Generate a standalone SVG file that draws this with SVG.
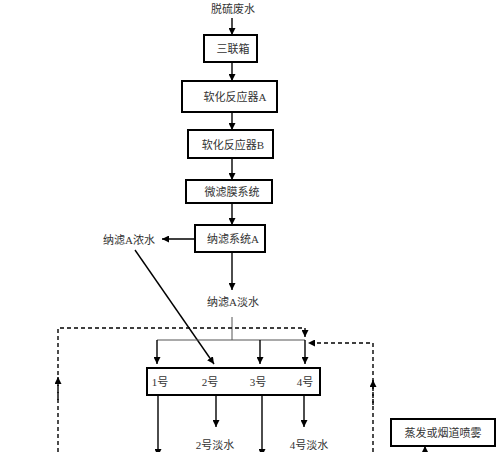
<svg xmlns="http://www.w3.org/2000/svg" width="500" height="452" viewBox="0 0 500 452">
<style>
.box{fill:#fff;stroke:#000;stroke-width:2}
.t{font-family:"Liberation Serif","Noto Sans CJK SC",serif;font-size:11px;fill:#333;text-anchor:middle;dominant-baseline:central}
.ln{stroke:#000;stroke-width:1.4;fill:none}
.thin{stroke:#555;stroke-width:1;fill:none}
.dash{stroke:#000;stroke-width:1.4;fill:none;stroke-dasharray:4,3}
</style>
<defs>
<marker id="ah" viewBox="0 0 10 10" refX="10" refY="5" markerWidth="7" markerHeight="7" markerUnits="userSpaceOnUse" orient="auto">
<path d="M0,0 L10,5 L0,10 z" fill="#000"/>
</marker>
</defs>
<rect width="500" height="452" fill="#fff"/>
<g id="connectors">
<line class="ln" x1="232" y1="18" x2="232" y2="35" marker-end="url(#ah)"/>
<line class="ln" x1="232" y1="62" x2="232" y2="81" marker-end="url(#ah)"/>
<line class="ln" x1="232" y1="112" x2="232" y2="130" marker-end="url(#ah)"/>
<line class="ln" x1="232" y1="158" x2="232" y2="180" marker-end="url(#ah)"/>
<line class="ln" x1="232" y1="203" x2="232" y2="225" marker-end="url(#ah)"/>
<line class="ln" x1="195" y1="239" x2="162" y2="239" marker-end="url(#ah)"/>
<line class="ln" x1="232" y1="252" x2="232" y2="290" marker-end="url(#ah)"/>
<line class="ln" x1="135" y1="250" x2="214" y2="364" marker-end="url(#ah)"/>
<polyline class="thin" points="232,317 232,340"/>
<polyline class="thin" points="157,340 305,340"/>
<line class="ln" x1="157" y1="340" x2="157" y2="364" marker-end="url(#ah)"/>
<line class="ln" x1="260" y1="340" x2="260" y2="364" marker-end="url(#ah)"/>
<line class="ln" x1="305" y1="340" x2="305" y2="364" marker-end="url(#ah)"/>
<polyline class="dash" points="58,452 58,328 305,328 305,337" marker-end="url(#ah)"/>
<line class="dash" x1="58" y1="400" x2="58" y2="377" marker-end="url(#ah)"/>
<polyline class="dash" points="373,452 373,343 308,343" marker-end="url(#ah)"/>
<line class="dash" x1="373" y1="405" x2="373" y2="380" marker-end="url(#ah)"/>
<line class="ln" x1="158" y1="395" x2="158" y2="456" marker-end="url(#ah)"/>
<line class="ln" x1="216" y1="395" x2="216" y2="427" marker-end="url(#ah)"/>
<line class="ln" x1="262" y1="395" x2="262" y2="456" marker-end="url(#ah)"/>
<line class="ln" x1="304" y1="395" x2="304" y2="427" marker-end="url(#ah)"/>
<line class="ln" x1="425" y1="460" x2="425" y2="446" marker-end="url(#ah)"/>
</g>
<g id="n-src"><text class="t" x="233" y="9">脱硫废水</text></g>
<g id="n-sanlian"><rect class="box" x="204" y="35" width="53" height="27"/><text class="t" x="233" y="49">三联箱</text></g>
<g id="n-softA"><rect class="box" x="182" y="81" width="95" height="31"/><text class="t" x="235" y="97">软化反应器A</text></g>
<g id="n-softB"><rect class="box" x="188" y="130" width="85" height="28"/><text class="t" x="233" y="145">软化反应器B</text></g>
<g id="n-mf"><rect class="box" x="186" y="180" width="86" height="23"/><text class="t" x="232" y="192">微滤膜系统</text></g>
<g id="n-nfA"><rect class="box" x="195" y="225" width="70" height="27"/><text class="t" x="233" y="239">纳滤系统A</text></g>
<g id="n-conc"><text class="t" x="129" y="240">纳滤A浓水</text></g>
<g id="n-perm"><text class="t" x="233" y="302">纳滤A淡水</text></g>
<g id="n-units"><rect class="box" x="147" y="368" width="173" height="27"/>
<text class="t" x="160" y="382">1号</text><text class="t" x="210" y="382">2号</text><text class="t" x="258" y="382">3号</text><text class="t" x="305" y="382">4号</text></g>
<g id="n-p2"><text class="t" x="215" y="445">2号淡水</text></g>
<g id="n-p4"><text class="t" x="309" y="445">4号淡水</text></g>
<g id="n-evap"><rect class="box" x="391" y="419" width="104" height="27"/><text class="t" x="443" y="433">蒸发或烟道喷雾</text></g>
</svg>
